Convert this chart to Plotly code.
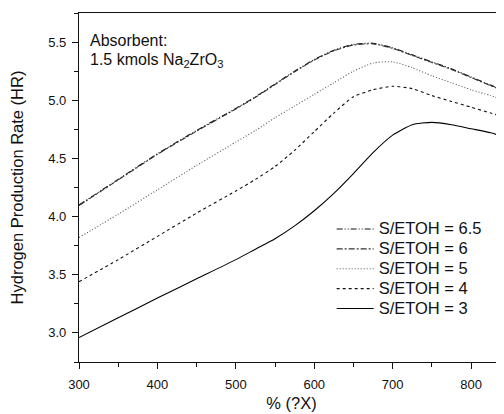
import plotly.graph_objects as go

x_vals = [300, 350, 400, 450, 500, 525, 550, 575, 600, 625, 650, 675, 700, 725, 750, 775, 800, 825, 850]

hr_65 = [4.10, 4.32, 4.54, 4.74, 4.93, 5.03, 5.14, 5.25, 5.35, 5.43, 5.48, 5.49, 5.45, 5.39, 5.33, 5.27, 5.20, 5.13, 5.06]
hr_6 = [4.095, 4.315, 4.535, 4.735, 4.925, 5.025, 5.135, 5.245, 5.345, 5.425, 5.475, 5.485, 5.445, 5.385, 5.325, 5.265, 5.195, 5.125, 5.055]
hr_5 = [3.82, 4.02, 4.23, 4.44, 4.64, 4.74, 4.85, 4.95, 5.05, 5.15, 5.25, 5.32, 5.33, 5.28, 5.21, 5.15, 5.09, 5.04, 4.98]
hr_4 = [3.44, 3.63, 3.83, 4.03, 4.22, 4.32, 4.43, 4.57, 4.73, 4.89, 5.03, 5.09, 5.12, 5.10, 5.04, 4.99, 4.94, 4.89, 4.84]
hr_3 = [2.96, 3.13, 3.30, 3.465, 3.63, 3.72, 3.81, 3.92, 4.05, 4.20, 4.37, 4.55, 4.70, 4.79, 4.81, 4.79, 4.755, 4.72, 4.67]

names = ["S/ETOH = 6.5", "S/ETOH = 6", "S/ETOH = 5", "S/ETOH = 4", "S/ETOH = 3"]
values = [hr_65, hr_6, hr_5, hr_4, hr_3]
dashes = ["6px,2px,1px,2px,1px,2px", "6px,2px,2px,2px", "1px,2px", "3px,3px", "solid"]
colors = ["#111", "#333", "#555", "#111", "#000"]

fig = go.Figure()
for name, ys, dash, col in zip(names, values, dashes, colors):
    fig.add_trace(go.Scatter(
        x=x_vals, y=ys, mode="lines",
        name='<span style="font-size:16.5px">' + name + "</span>",
        line=dict(color=col, width=1.1, dash=dash, shape="spline", smoothing=0.6),
    ))

font_family = "Liberation Sans, Arial, sans-serif"

# page body adds an 8px offset, so the figure is sized to fit the window
fig.update_layout(
    width=496, height=406,
    margin=dict(l=71, r=0, t=5, b=52),
    paper_bgcolor="white", plot_bgcolor="white",
    font=dict(family=font_family, color="#111", size=13),
    showlegend=True,
    legend=dict(
        x=0.5945, y=0.424, xanchor="left", yanchor="top",
        bgcolor="rgba(0,0,0,0)", font=dict(size=13, family=font_family),
        tracegroupgap=0, itemwidth=37,
    ),
    xaxis=dict(
        range=[300, 842], tickmode="linear", tick0=300, dtick=100,
        ticks="outside", ticklen=6, tickwidth=1.2, tickcolor="#111",
        showline=True, linecolor="#111", linewidth=1.3, mirror=True,
        showgrid=False, zeroline=False, automargin=False,
        tickfont=dict(size=13), ticklabelstandoff=4,
        minor=dict(dtick=50, ticks="outside", ticklen=4, tickwidth=1, tickcolor="#111"),
        title=dict(text="% (?X)", font=dict(size=16.5), standoff=6),
    ),
    yaxis=dict(
        range=[2.75, 5.75], tickmode="linear", tick0=3.0, dtick=0.5,
        tickformat=".1f",
        ticks="outside", ticklen=6, tickwidth=1.2, tickcolor="#111",
        showline=True, linecolor="#111", linewidth=1.3, mirror=False,
        showgrid=False, zeroline=False, automargin=False,
        tickfont=dict(size=13), ticklabelstandoff=3,
        minor=dict(dtick=0.25, ticks="outside", ticklen=4, tickwidth=1, tickcolor="#111"),
        title=dict(text="Hydrogen Production Rate (HR)", font=dict(size=16.5), standoff=22),
    ),
    annotations=[
        dict(
            text="Absorbent:",
            xref="paper", yref="paper", x=0.021, y=0.921,
            xanchor="left", yanchor="middle", align="left", showarrow=False,
            font=dict(size=16, family=font_family, color="#111"),
        ),
        dict(
            text="1.5 kmols Na<sub>2</sub>ZrO<sub>3</sub>",
            xref="paper", yref="paper", x=0.021, y=0.8645,
            xanchor="left", yanchor="middle", align="left", showarrow=False,
            font=dict(size=16, family=font_family, color="#111"),
        ),
    ],
)

fig.write_html("out.html")
